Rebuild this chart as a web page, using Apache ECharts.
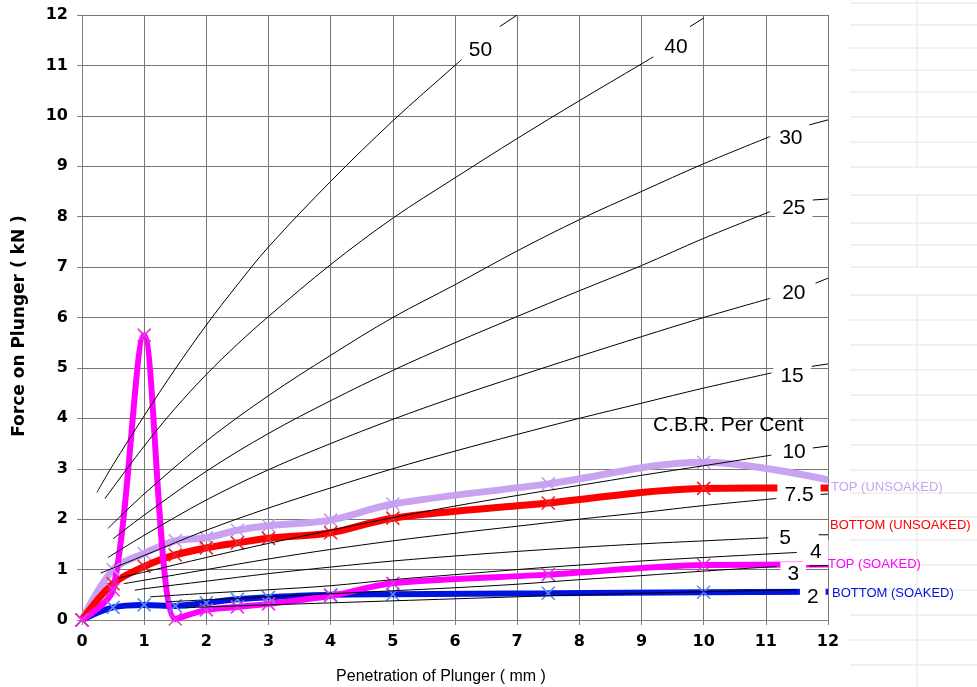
<!DOCTYPE html>
<html><head><meta charset="utf-8">
<script src="https://cdn.jsdelivr.net/npm/echarts@6/dist/echarts.min.js"></script>
<style>html,body{margin:0;padding:0;background:#fff}#c{width:977px;height:687px}</style>
</head><body><div id="c"></div>
<script>
// ---------- data ----------
const penetration    = [0, 0.5, 1, 1.5, 2, 2.5, 3, 4, 5, 7.5, 10, 12];
const topUnsoaked    = [0, 1.00, 1.32, 1.57, 1.63, 1.78, 1.87, 1.98, 2.30, 2.70, 3.13, 2.78];
const bottomUnsoaked = [0, 0.72, 1.06, 1.29, 1.43, 1.53, 1.62, 1.73, 2.02, 2.32, 2.61, 2.62];
const topSoaked      = [0, 0.60, 5.65, 0.02, 0.20, 0.26, 0.32, 0.48, 0.73, 0.90, 1.09, 1.10];
const bottomSoaked   = [0, 0.25, 0.30, 0.28, 0.34, 0.41, 0.45, 0.50, 0.51, 0.53, 0.55, 0.56];
const seriesNames    = ['TOP (UNSOAKED)', 'BOTTOM (UNSOAKED)', 'TOP (SOAKED)', 'BOTTOM (SOAKED)'];

// C.B.R. reference curves [penetration, force]
const cbr50  = [[0.24,2.53],[0.5,3.08],[1,4.05],[1.5,4.98],[2,5.85],[2.5,6.65],[3,7.4],[4,8.7],[5,9.9],[6,11.0],[6.11,11.12]];
const cbr40  = [[0.37,2.41],[1,3.45],[1.5,4.2],[2,4.87],[2.5,5.47],[3,6.02],[4,7.05],[5,7.97],[6,8.77],[7,9.55],[8,10.3],[9,11.03],[9.19,11.17]];
const cbr30  = [[0.42,1.82],[1,2.5],[2,3.55],[3,4.45],[4,5.25],[5,6.0],[6,6.65],[7,7.32],[8,7.94],[9,8.5],[10,9.05],[11.07,9.59]];
const cbr25  = [[0.5,1.61],[1,2.08],[2,2.95],[3,3.7],[4,4.35],[5,4.95],[6,5.5],[7,6.02],[8,6.53],[9,7.03],[10,7.57],[11.07,8.1]];
const cbr20  = [[0.42,1.24],[1,1.68],[2,2.38],[3,2.98],[4,3.5],[5,3.98],[6,4.42],[7,4.83],[8,5.23],[9,5.62],[10,6.0],[11.07,6.38]];
const cbr15  = [[0.3,0.93],[1,1.28],[2,1.78],[3,2.22],[4,2.62],[5,3.0],[6,3.35],[7,3.68],[8,4.0],[9,4.3],[10,4.6],[11.09,4.9]];
const cbr10  = [[0.58,0.83],[1,0.95],[2,1.24],[3,1.52],[4,1.78],[5,2.03],[6,2.26],[7,2.47],[8,2.67],[9,2.87],[10,3.06],[11.09,3.27]];
const cbr7_5 = [[0.67,0.72],[1,0.79],[2,1.0],[3,1.21],[4,1.4],[5,1.57],[6,1.72],[7,1.86],[8,2.0],[9,2.13],[10,2.27],[11.17,2.41]];
const cbr5   = [[0.85,0.59],[1,0.62],[2,0.77],[3,0.92],[4,1.05],[5,1.17],[6,1.27],[7,1.36],[8,1.44],[9,1.51],[10,1.57],[11.04,1.63]];
const cbr4   = [[1.1,0.46],[2,0.53],[3,0.6],[4,0.68],[5,0.8],[6,0.9],[7,1.0],[8,1.09],[9,1.17],[10,1.24],[11.5,1.34]];
const cbr3   = [[1.35,0.36],[2,0.4],[3,0.46],[4,0.52],[5,0.58],[6,0.64],[7,0.71],[8,0.8],[9,0.88],[10,0.97],[11.17,1.06]];
const cbr2   = [[1.66,0.24],[2,0.26],[3,0.3],[4,0.34],[5,0.38],[6,0.42],[7,0.46],[8,0.5],[9,0.53],[10,0.56],[11.5,0.6]];
// short continuation of each curve beyond its label
const tail50 = [[6.72,11.77],[7.0,12.0]];
const tail40 = [[9.78,11.77],[10,11.94]];
const tail30 = [[11.7,9.82],[12,9.92]];
const tail25 = [[11.75,8.33],[12,8.35]];
const tail20 = [[11.8,6.68],[12,6.78]];
const tail15 = [[11.74,5.03],[12,5.08]];
const tail10 = [[11.74,3.41],[12,3.45]];
const tail7_5 = [[11.75,2.48],[12,2.5]];
const tail5  = [[11.85,1.69],[12,1.69]];
const tail4  = [[11.85,1.35],[12,1.36]];
const tail3  = [[11.7,1.07],[12,1.08]];
const cbrLabels = ['50','40','30','25','20','15','10','7.5','5','4','3','2'];

// ---------- styling (not data) ----------
const cbrMain = [cbr50,cbr40,cbr30,cbr25,cbr20,cbr15,cbr10,cbr7_5,cbr5,cbr4,cbr3,cbr2];
const cbrTails = [tail50,tail40,tail30,tail25,tail20,tail15,tail10,tail7_5,tail5,tail4,tail3];
const cbrLabelOffset = [[0,-9],[4,-10],[2,2],[5,-3],[5,-5],[2,3],[4,-3],[1,-3],[4,0],[6,0],[4,8],[3,7]];
const lineColors   = ['#c9a2f2', '#ff0000', '#ff00ff', '#0012e0'];
const markerColors = ['#c59cf0', '#e8262e', '#e830e8', '#5a8cf5'];
const smoothness   = [0.35, 0.35, 0.3, 0.35];
const nameLabelOffset = [[3,8],[2,38],[0,0],[4,2]];
const sheetRowsY = [3,25,48,70,92,117,142,167,195,223,245,267,295,320,345,370,395,420,445,470,493,517,540,565,590,615,640,665];
const sheetColSegs = [[0,167],[195,267],[295,687]];

const X = 'path://M0 0L10 10M10 0L0 10';
const chart = echarts.init(document.getElementById('c'), null, {renderer:'canvas'});
const dataSets = [topUnsoaked, bottomUnsoaked, topSoaked, bottomSoaked];
const drawOrder = [3, 0, 1, 2];

const series = [];
drawOrder.forEach(i => {
  series.push({
    type: 'line', name: seriesNames[i], z: 2,
    data: penetration.map((p, k) => [p, dataSets[i][k]]),
    smooth: smoothness[i],
    symbol: v => (v[0] >= 12 ? 'none' : X),
    symbolSize: 13,
    lineStyle: {color: lineColors[i], width: i >= 2 ? 6 : 7},
    itemStyle: {color: markerColors[i], borderColor: markerColors[i], borderWidth: 1.6},
    silent: true, animation: false
  });
});
cbrMain.forEach(pts => {
  series.push({type:'line', z:3, data: pts, smooth: 0.35, symbol:'none', silent:true, animation:false,
    lineStyle:{color:'#000', width:1}});
});
cbrTails.forEach(pts => {
  series.push({type:'line', z:3, data: pts, symbol:'none', silent:true, animation:false,
    lineStyle:{color:'#000', width:1}});
});

const graphics = [];
sheetRowsY.forEach(y => graphics.push({type:'line', silent:true, z:-1,
  shape:{x1:850, y1:y, x2:977, y2:y}, style:{stroke:'#e3e3e3', lineWidth:1}}));
sheetColSegs.forEach(s => graphics.push({type:'line', silent:true, z:-1,
  shape:{x1:917, y1:s[0], x2:917, y2:s[1]}, style:{stroke:'#e3e3e3', lineWidth:1}}));
graphics.push({type:'text', x:653, y:425, silent:true, z:50,
  style:{text:'C.B.R. Per Cent', font:'21px "Liberation Sans", Arial, sans-serif', fill:'#000', verticalAlign:'middle', align:'left'}});
graphics.push({type:'text', x:441, y:677, silent:true,
  style:{text:'Penetration of Plunger ( mm )', font:'16px "Liberation Sans", Arial, sans-serif', fill:'#000', verticalAlign:'middle', align:'center'}});
graphics.push({type:'text', x:20, y:326, rotation:Math.PI/2, silent:true,
  style:{text:'Force on Plunger ( kN )', font:'bold 17px "DejaVu Sans", sans-serif', fill:'#000', verticalAlign:'middle', align:'center'}});

const axisCommon = {
  type:'value', min:0, max:12, interval:1,
  axisLine:{show:true, lineStyle:{color:'#808080', width:1}},
  axisTick:{show:true, length:5, lineStyle:{color:'#808080'}},
  splitLine:{show:true, lineStyle:{color:'#767676', width:1}},
  axisLabel:{fontFamily:'DejaVu Sans', fontWeight:'bold', fontSize:16, color:'#000', margin:14}
};
chart.setOption({
  animation:false,
  backgroundColor:'#ffffff',
  grid:{left:82, right:149, top:15, bottom:67, containLabel:false},
  xAxis: Object.assign({}, axisCommon),
  yAxis: Object.assign({}, axisCommon),
  series: series,
  graphic: graphics
});

// labels placed through the chart's own coordinate conversion, drawn above all series
cbrMain.forEach((pts, i) => {
  const p = chart.convertToPixel({gridIndex:0}, pts[pts.length-1]);
  graphics.push({type:'text', silent:true, z:100, x: p[0] + cbrLabelOffset[i][0], y: p[1] + cbrLabelOffset[i][1],
    style:{text: cbrLabels[i], font:'21px "Liberation Sans", Arial, sans-serif', fill:'#000',
      backgroundColor:'#ffffff', padding:[2,7,2,7], align:'left', verticalAlign:'middle'}});
});
[0,1,2,3].forEach(i => {
  const p = chart.convertToPixel({gridIndex:0}, [penetration[penetration.length-1], dataSets[i][dataSets[i].length-1]]);
  graphics.push({type:'text', silent:true, z:100, x: p[0] + nameLabelOffset[i][0], y: p[1] + nameLabelOffset[i][1],
    style:{text: seriesNames[i], font:'13px "Liberation Sans", Arial, sans-serif', fill: lineColors[i],
      align:'left', verticalAlign:'middle'}});
});
chart.setOption({graphic: graphics});
</script></body></html>
